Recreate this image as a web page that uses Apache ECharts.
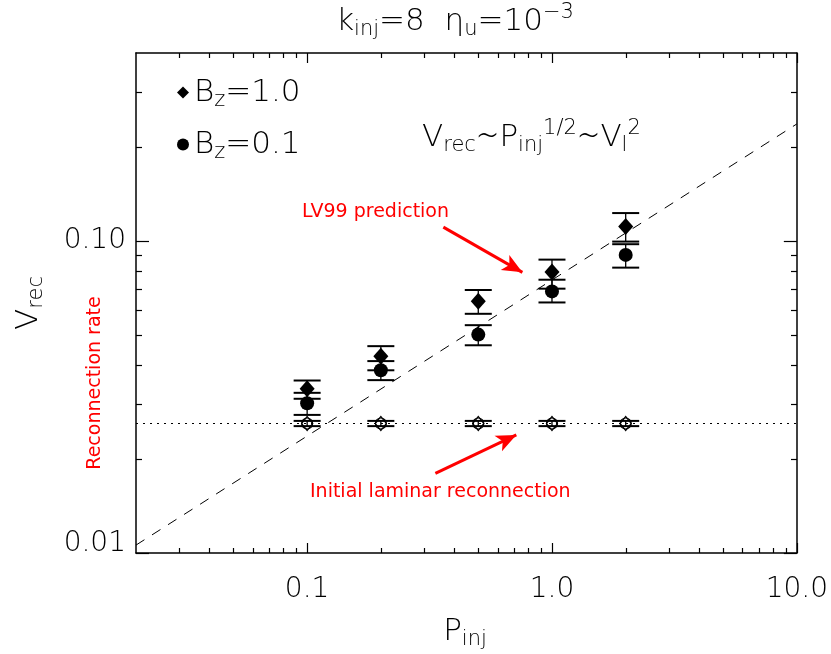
<!DOCTYPE html>
<html>
<head>
<meta charset="utf-8">
<script src="https://cdn.jsdelivr.net/npm/echarts@6/dist/echarts.min.js"></script>
<style>
    html, body { margin: 0; padding: 0; background: #fff; }
    #chartDiv { width: 831px; height: 654px; }
</style>
</head>
<body>
<div id="chartDiv"></div>
<script>
// Values
const pInj = [0.1, 0.2, 0.5, 1.0, 2.0];

// B_z = 1.0 (filled diamonds)
const vrecBz10 = [0.0336, 0.0427, 0.0641, 0.0795, 0.1112];
const vrecBz10Low = [0.0312, 0.0385, 0.0584, 0.0703, 0.0995];
const vrecBz10High = [0.0357, 0.0460, 0.0696, 0.0871, 0.1228];

// B_z = 0.1 (filled circles)
const vrecBz01 = [0.0302, 0.0385, 0.0501, 0.0689, 0.0902];
const vrecBz01Low = [0.0277, 0.0358, 0.0463, 0.0635, 0.0821];
const vrecBz01High = [0.0326, 0.0412, 0.0537, 0.0751, 0.0976];

// initial laminar rate (open symbols)
const vrecInit = [0.026, 0.026, 0.026, 0.026, 0.026];
const vrecInitLow = [0.0255, 0.0255, 0.0255, 0.0255, 0.0255];
const vrecInitHigh = [0.0265, 0.0265, 0.0265, 0.0265, 0.0265];

// guide lines
const lv99P = [0.02, 10];
const lv99V = [0.0106, 0.237];
const laminarP = [0.02, 10];
const laminarV = [0.026, 0.026];

// arrows (data coords: start, end)
const arrowLv99 = [[0.36, 0.1107], [0.757, 0.0793]];
const arrowLaminar = [[0.334, 0.0180], [0.715, 0.0239]];

// axes
const xMin = 0.02, xMax = 10;
const yMin = 0.01, yMax = 0.4;
const xMajorTicks = [0.1, 1, 10];
const xTickLabels = ['0.1', '1.0', '10.0'];
const xMinorTicks = [0.03, 0.04, 0.05, 0.06, 0.07, 0.08, 0.09,
                     0.2, 0.3, 0.4, 0.5, 0.6, 0.7, 0.8, 0.9,
                     2, 3, 4, 5, 6, 7, 8, 9];
const yMajorTicks = [0.01, 0.1];
const yTickLabels = ['{lo|0.01}', '0.10'];
const yMinorTicks = [0.02, 0.03, 0.04, 0.05, 0.06, 0.07, 0.08, 0.09, 0.2, 0.3];

const FONT = "'DejaVu Sans', sans-serif";
const THIN = 200;
const BIG = 31;
const SMALL = 21;

function labelFor(ticks, labels) {
    return v => {
        for (let i = 0; i < ticks.length; i++) {
            if (Math.abs(v - ticks[i]) / ticks[i] < 1e-6) return labels[i];
        }
        return '';
    };
}

function zip3(xs, a, b) {
    return xs.map((x, i) => [x, a[i], b[i]]);
}

function errorBarItem(params, api) {
    const x = api.value(0);
    const lo = api.coord([x, api.value(1)]);
    const hi = api.coord([x, api.value(2)]);
    const hw = 13.5;
    const capStyle = { stroke: '#000', lineWidth: 2 };
    return {
        type: 'group',
        children: [
            { type: 'line', shape: { x1: lo[0], y1: lo[1], x2: hi[0], y2: hi[1] }, style: { stroke: '#000', lineWidth: 1.3 } },
            { type: 'line', shape: { x1: lo[0] - hw, y1: lo[1], x2: lo[0] + hw, y2: lo[1] }, style: capStyle },
            { type: 'line', shape: { x1: hi[0] - hw, y1: hi[1], x2: hi[0] + hw, y2: hi[1] }, style: capStyle }
        ]
    };
}

function xAxisDef(gridIndex, position, ticks, len, withLabels) {
    return {
        type: 'log', gridIndex: gridIndex, position: position,
        min: xMin, max: xMax,
        axisLine: { show: gridIndex === 0, onZero: false, lineStyle: { color: '#000', width: 1.5 } },
        axisTick: { show: true, inside: true, length: len, customValues: ticks, lineStyle: { color: '#000', width: 1.2 } },
        axisLabel: withLabels ? {
            show: true, customValues: xMajorTicks, formatter: labelFor(xMajorTicks, xTickLabels),
            margin: 23, fontSize: 28, fontFamily: FONT, fontWeight: THIN, color: '#000'
        } : { show: false },
        splitLine: { show: false },
        minorTick: { show: false }
    };
}

function yAxisDef(gridIndex, position, ticks, len, withLabels) {
    return {
        type: 'log', gridIndex: gridIndex, position: position,
        min: yMin, max: yMax,
        axisLine: { show: gridIndex === 0, onZero: false, lineStyle: { color: '#000', width: 1.5 } },
        axisTick: { show: true, inside: true, length: len, customValues: ticks, lineStyle: { color: '#000', width: 1.2 } },
        axisLabel: withLabels ? {
            show: true, customValues: yMajorTicks, formatter: labelFor(yMajorTicks, yTickLabels),
            margin: 10, fontSize: 28, fontFamily: FONT, fontWeight: THIN, color: '#000',
            rich: { lo: { fontSize: 28, fontFamily: FONT, fontWeight: THIN, color: '#000', padding: [0, 0, 18, 0] } }
        } : { show: false },
        splitLine: { show: false },
        minorTick: { show: false }
    };
}

const subRich = {
    sub: { fontSize: SMALL, fontFamily: FONT, fontWeight: THIN, color: '#000', padding: [16, 0, 0, 0] },
    sup: { fontSize: SMALL, fontFamily: FONT, fontWeight: THIN, color: '#000', padding: [0, 0, 18, 0] },
    op: { fontSize: 37, fontFamily: FONT, fontWeight: THIN, color: '#000' }
};

const chartDom = document.getElementById('chartDiv');
const myChart = echarts.init(chartDom, null, { renderer: 'canvas' });

const gridRect = { left: 136, top: 53, width: 661, height: 500 };

const option = {
    backgroundColor: '#fff',
    animation: false,
    grid: [
        Object.assign({ show: false }, gridRect),
        Object.assign({ show: false }, gridRect)
    ],
    xAxis: [
        xAxisDef(0, 'bottom', xMajorTicks, 10, true),
        xAxisDef(0, 'top', xMajorTicks, 10, false),
        xAxisDef(1, 'bottom', xMinorTicks, 5, false),
        xAxisDef(1, 'top', xMinorTicks, 5, false)
    ],
    yAxis: [
        yAxisDef(0, 'left', yMajorTicks, 13, true),
        yAxisDef(0, 'right', yMajorTicks, 13, false),
        yAxisDef(1, 'left', yMinorTicks, 6, false),
        yAxisDef(1, 'right', yMinorTicks, 6, false)
    ],
    legend: {
        orient: 'vertical',
        left: 172, top: 72,
        itemGap: 18,
        itemWidth: 12, itemHeight: 12,
        selectedMode: false,
        data: [
            { name: 'Bz=1.0', icon: 'diamond' },
            { name: 'Bz=0.1', icon: 'circle' }
        ],
        formatter: name => name.replace('Bz', 'B{sub|z}'),
        textStyle: {
            fontSize: BIG, fontFamily: FONT, fontWeight: THIN, color: '#000',
            rich: subRich
        }
    },
    series: [
        {
            name: 'LV99', type: 'line', xAxisIndex: 0, yAxisIndex: 0,
            data: lv99P.map((p, i) => [p, lv99V[i]]),
            symbol: 'none', silent: true,
            lineStyle: { color: '#000', width: 1, type: [10, 9] },
            markLine: {
                silent: true, symbol: ['none', 'arrow'], symbolSize: [13, 20],
                lineStyle: { color: '#f00', width: 3, type: 'solid' },
                itemStyle: { color: '#f00' },
                label: { show: false },
                data: [[{ coord: arrowLv99[0] }, { coord: arrowLv99[1] }]]
            }
        },
        {
            name: 'laminar', type: 'line', xAxisIndex: 0, yAxisIndex: 0,
            data: laminarP.map((p, i) => [p, laminarV[i]]),
            symbol: 'none', silent: true,
            lineStyle: { color: '#000', width: 1.2, type: [2, 5] },
            markLine: {
                silent: true, symbol: ['none', 'arrow'], symbolSize: [13, 20],
                lineStyle: { color: '#f00', width: 3, type: 'solid' },
                itemStyle: { color: '#f00' },
                label: { show: false },
                data: [[{ coord: arrowLaminar[0] }, { coord: arrowLaminar[1] }]]
            }
        },
        {
            name: 'errBz10', type: 'custom', xAxisIndex: 0, yAxisIndex: 0,
            renderItem: errorBarItem, encode: { x: 0, y: [1, 2] },
            data: zip3(pInj, vrecBz10Low, vrecBz10High), z: 3
        },
        {
            name: 'errBz01', type: 'custom', xAxisIndex: 0, yAxisIndex: 0,
            renderItem: errorBarItem, encode: { x: 0, y: [1, 2] },
            data: zip3(pInj, vrecBz01Low, vrecBz01High), z: 3
        },
        {
            name: 'errInit', type: 'custom', xAxisIndex: 0, yAxisIndex: 0,
            renderItem: errorBarItem, encode: { x: 0, y: [1, 2] },
            data: zip3(pInj, vrecInitLow, vrecInitHigh), z: 3
        },
        {
            name: 'Bz=1.0', type: 'scatter', xAxisIndex: 0, yAxisIndex: 0,
            symbol: 'diamond', symbolSize: [15, 17],
            itemStyle: { color: '#000', opacity: 1 },
            data: pInj.map((p, i) => [p, vrecBz10[i]]), z: 4
        },
        {
            name: 'Bz=0.1', type: 'scatter', xAxisIndex: 0, yAxisIndex: 0,
            symbol: 'circle', symbolSize: 14,
            itemStyle: { color: '#000', opacity: 1 },
            data: pInj.map((p, i) => [p, vrecBz01[i]]), z: 4
        },
        {
            name: 'initCircle', type: 'scatter', xAxisIndex: 0, yAxisIndex: 0,
            symbol: 'circle', symbolSize: 11,
            itemStyle: { color: 'rgba(255,255,255,0)', borderColor: '#000', borderWidth: 1.2, opacity: 1 },
            data: pInj.map((p, i) => [p, vrecInit[i]]), z: 5
        },
        {
            name: 'initDiamond', type: 'scatter', xAxisIndex: 0, yAxisIndex: 0,
            symbol: 'diamond', symbolSize: [11, 14],
            itemStyle: { color: 'rgba(255,255,255,0)', borderColor: '#000', borderWidth: 1.2, opacity: 1 },
            data: pInj.map((p, i) => [p, vrecInit[i]]), z: 5
        }
    ],
    graphic: [
        {
            type: 'text', x: 455, y: 22, z: 10,
            style: {
                text: 'k{sub|inj}=8  η{sub|u}=10{sup|−3}',
                fontSize: BIG, fontFamily: FONT, fontWeight: THIN, fill: '#000',
                align: 'center', verticalAlign: 'middle', rich: subRich
            }
        },
        {
            type: 'text', x: 422, y: 138, z: 10,
            style: {
                text: 'V{sub|rec}{op|∼}P{sub|inj}{sup|1/2}{op|∼}V{sub|l}{sup|2}',
                fontSize: BIG, fontFamily: FONT, fontWeight: THIN, fill: '#000',
                align: 'left', verticalAlign: 'middle', rich: subRich
            }
        },
        {
            type: 'text', x: 465, y: 632, z: 10,
            style: {
                text: 'P{sub|inj}',
                fontSize: BIG, fontFamily: FONT, fontWeight: THIN, fill: '#000',
                align: 'center', verticalAlign: 'middle', rich: subRich
            }
        },
        {
            type: 'text', x: 29, y: 303, rotation: Math.PI / 2, z: 10,
            style: {
                text: 'V{sub|rec}',
                fontSize: BIG, fontFamily: FONT, fontWeight: THIN, fill: '#000',
                align: 'center', verticalAlign: 'middle', rich: subRich
            }
        },
        {
            type: 'text', x: 95, y: 383, rotation: Math.PI / 2, z: 10,
            style: {
                text: 'Reconnection rate',
                fontSize: 19, fontFamily: FONT, fill: '#f00',
                align: 'center', verticalAlign: 'middle'
            }
        },
        {
            type: 'text', x: 302, y: 212, z: 10,
            style: {
                text: 'LV99 prediction',
                fontSize: 19, fontFamily: FONT, fill: '#f00',
                align: 'left', verticalAlign: 'middle'
            }
        },
        {
            type: 'text', x: 310, y: 492, z: 10,
            style: {
                text: 'Initial laminar reconnection',
                fontSize: 19, fontFamily: FONT, fill: '#f00',
                align: 'left', verticalAlign: 'middle'
            }
        }
    ]
};

myChart.setOption(option);
</script>
</body>
</html>
